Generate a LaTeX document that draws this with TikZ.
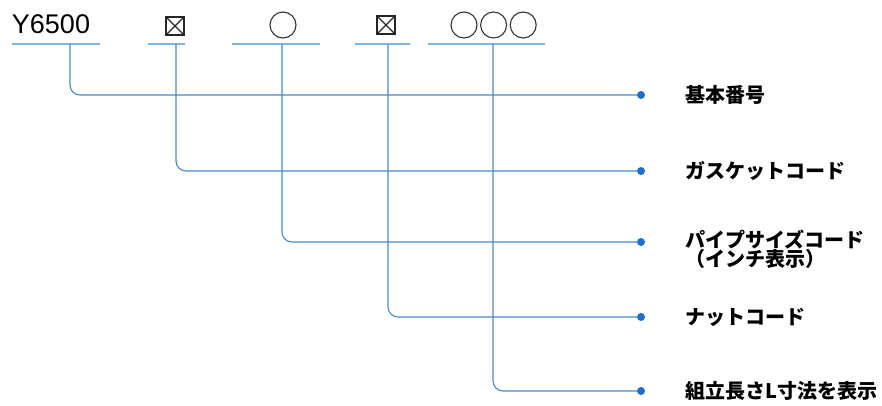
\documentclass[tikz,border=0pt]{standalone}
\usepackage{fontspec}
\setmainfont{Liberation Sans}
\newfontfamily\jpfont{Noto Sans CJK JP}
\usetikzlibrary{positioning}

\definecolor{linkblue}{RGB}{70,140,205}
\definecolor{ulblue}{RGB}{130,180,225}
\definecolor{dotblue}{RGB}{30,110,205}

\begin{document}
\begin{tikzpicture}[x=1pt,y=-1pt]

  \tikzstyle{link} = [draw=linkblue, line width=1.1pt, rounded corners=10pt]
  \tikzstyle{uline} = [draw=ulblue, line width=1.1pt]
  \tikzstyle{tip} = [circle, fill=dotblue, inner sep=0pt, minimum size=8pt]
  \tikzstyle{desc} = [anchor=west, inner sep=0pt, align=left, font=\jpfont\bfseries\fontsize{20}{19}\selectfont]
  \tikzstyle{xbox} = [draw=black!85, rectangle, minimum size=18pt, inner sep=0pt, line width=1.3pt,
                      path picture={\draw[line width=1.1pt, black!85] (path picture bounding box.north west) -- (path picture bounding box.south east)
                                    (path picture bounding box.north east) -- (path picture bounding box.south west);}]
  \tikzstyle{ring} = [draw=black!80, circle, minimum size=26pt, inner sep=0pt, line width=1.1pt]

  \useasboundingbox (0,0) rectangle (882,405);

  % code row
  \node[inner sep=0pt, font=\fontsize{27}{27}\selectfont] (model) at (51,24) {Y6500};
  \node[xbox] (gasket) at (175,26) {};
  \node[ring] (pipe) at (283,25) {};
  \node[xbox] (nut) at (386,25) {};
  \node[ring] (len1) at (464,25) {};
  \node[ring, right=2.5pt of len1] (len2) {};
  \node[ring, right=2.5pt of len2] (len3) {};

  % underlines
  \draw[uline] (12,44) -- (100,44);
  \draw[uline] (148,44) -- (185,44);
  \draw[uline] (232,44) -- (320,44);
  \draw[uline] (355,44) -- (410,44);
  \draw[uline] (428,44) -- (545,44);

  \coordinate (modeltap) at (70,44);
  \coordinate (gaskettap) at (176,44);
  \coordinate (pipetap) at (282,44);
  \coordinate (nuttap) at (388,44);
  \coordinate (lentap) at (493,44);

  % end points
  \node[tip] (modeldot) at (641,95) {};
  \node[tip] (gasketdot) at (641,171) {};
  \node[tip] (pipedot) at (641,242) {};
  \node[tip] (nutdot) at (641,317) {};
  \node[tip] (lendot) at (641,391) {};

  \node[desc] (modeltxt) at (685,95) {基本番号};
  \node[desc] (gaskettxt) at (685,171) {ガスケットコード};
  \node[desc, anchor=north west] (pipetxt) at (685,230) {パイプサイズコード\\（インチ表示）};
  \node[desc] (nuttxt) at (685,317) {ナットコード};
  \node[desc] (lentxt) at (685,391) {組立長さL寸法を表示};

  \draw[link] (modeltap) |- (modeldot);
  \draw[link] (gaskettap) |- (gasketdot);
  \draw[link] (pipetap) |- (pipedot);
  \draw[link] (nuttap) |- (nutdot);
  \draw[link] (lentap) |- (lendot);

\end{tikzpicture}
\end{document}
